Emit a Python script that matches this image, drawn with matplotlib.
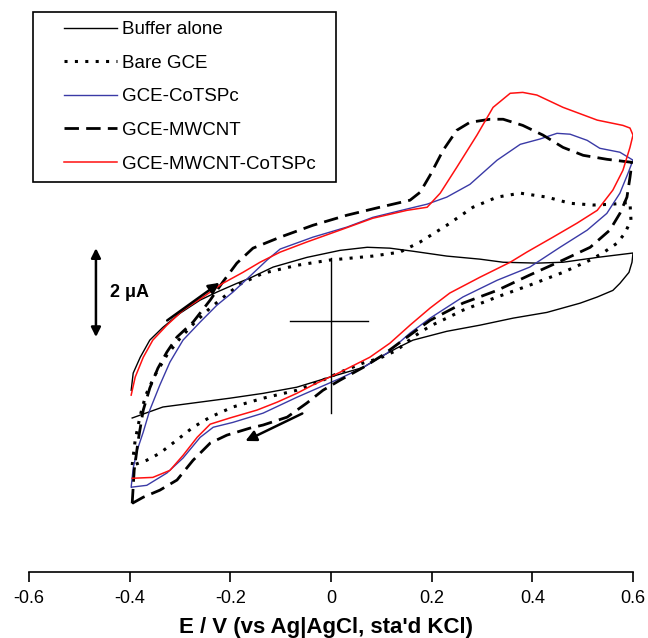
import matplotlib
matplotlib.use("Agg")
import matplotlib.pyplot as plt
from matplotlib.patches import Rectangle

plt.rcParams['font.family'] = ['Liberation Sans', 'DejaVu Sans']

# potential (V vs Ag|AgCl) and current (uA), forward scan then reverse scan
buffer_E = [-0.397, -0.393, -0.379, -0.360, -0.334, -0.300, -0.260, -0.227, -0.187, -0.161,
            -0.115, -0.048, 0.018, 0.072, 0.117, 0.163, 0.230, 0.296, 0.342, 0.409,
            0.461, 0.529, 0.600,
            0.598, 0.592, 0.574, 0.560, 0.529, 0.495, 0.429, 0.362, 0.296, 0.230,
            0.163, 0.131, 0.097, 0.064, -0.002, -0.068, -0.135, -0.201, -0.334, -0.395]
buffer_I = [-1.57, -1.18, -0.82, -0.43, -0.14, 0.18, 0.48, 0.66, 0.86, 0.98,
            1.23, 1.45, 1.61, 1.68, 1.66, 1.59, 1.48, 1.41, 1.34, 1.32,
            1.34, 1.45, 1.55,
            1.34, 1.11, 0.86, 0.70, 0.55, 0.41, 0.20, 0.07, -0.09, -0.23,
            -0.43, -0.61, -0.82, -1.05, -1.27, -1.50, -1.64, -1.75, -1.95, -2.20]

bare_E = [-0.395, -0.389, -0.379, -0.368, -0.350, -0.326, -0.300, -0.270, -0.240, -0.211,
          -0.181, -0.135, -0.068, -0.002, 0.083, 0.137, 0.177, 0.230, 0.282, 0.330,
          0.376, 0.429, 0.475, 0.521, 0.560, 0.594,
          0.596, 0.584, 0.568, 0.540, 0.515, 0.461, 0.395, 0.330, 0.262, 0.230,
          0.197, 0.163, 0.131, 0.097, 0.064, 0.018, -0.016, -0.068, -0.135, -0.195,
          -0.240, -0.274, -0.306, -0.340, -0.366, -0.393]
bare_I = [-3.27, -2.70, -2.14, -1.68, -1.23, -0.77, -0.39, -0.02, 0.30, 0.57,
          0.84, 1.09, 1.27, 1.39, 1.48, 1.57, 1.80, 2.18, 2.59, 2.82,
          2.91, 2.82, 2.68, 2.64, 2.66, 2.70,
          2.30, 2.00, 1.77, 1.55, 1.39, 1.11, 0.82, 0.55, 0.25, 0.07,
          -0.11, -0.36, -0.66, -0.84, -0.95, -1.16, -1.34, -1.57, -1.75, -1.95,
          -2.18, -2.41, -2.70, -3.00, -3.16, -3.27]

cotspc_E = [-0.397, -0.393, -0.385, -0.373, -0.360, -0.340, -0.320, -0.294, -0.260, -0.227,
            -0.195, -0.165, -0.127, -0.101, -0.036, 0.032, 0.083, 0.151, 0.191, 0.230,
            0.276, 0.330, 0.376, 0.415, 0.449, 0.475, 0.509, 0.534, 0.574, 0.600,
            0.590, 0.574, 0.548, 0.509, 0.455, 0.395, 0.330, 0.262, 0.197, 0.157,
            0.111, 0.064, 0.018, -0.036, -0.068, -0.135, -0.195, -0.234, -0.260, -0.294,
            -0.326, -0.366, -0.395]
cotspc_I = [-3.77, -3.34, -2.93, -2.52, -2.02, -1.45, -0.93, -0.43, -0.02, 0.36,
            0.66, 0.98, 1.39, 1.64, 1.91, 2.14, 2.36, 2.55, 2.66, 2.82,
            3.11, 3.66, 4.02, 4.14, 4.27, 4.25, 4.11, 3.93, 3.84, 3.66,
            3.36, 2.91, 2.45, 2.07, 1.68, 1.23, 0.93, 0.55, 0.07, -0.27,
            -0.73, -1.05, -1.30, -1.57, -1.73, -2.09, -2.30, -2.41, -2.64, -3.11,
            -3.45, -3.73, -3.77]

mwcnt_E = [-0.395, -0.391, -0.383, -0.373, -0.360, -0.344, -0.326, -0.306, -0.274, -0.240,
           -0.215, -0.187, -0.155, -0.101, -0.036, 0.032, 0.097, 0.157, 0.177, 0.197,
           0.223, 0.250, 0.276, 0.316, 0.342, 0.381, 0.421, 0.461, 0.501, 0.548, 0.598,
           0.594, 0.588, 0.574, 0.554, 0.515, 0.461, 0.395, 0.330, 0.262, 0.197,
           0.143, 0.103, 0.064, 0.018, -0.016, -0.048, -0.087, -0.135, -0.161, -0.207,
           -0.240, -0.274, -0.306, -0.340, -0.373, -0.395]
mwcnt_I = [-4.14, -3.39, -2.70, -2.02, -1.52, -1.07, -0.70, -0.36, -0.02, 0.48,
           0.89, 1.32, 1.66, 1.91, 2.18, 2.41, 2.59, 2.75, 2.93, 3.32,
           3.89, 4.34, 4.52, 4.59, 4.59, 4.45, 4.23, 3.95, 3.77, 3.68, 3.61,
           3.27, 2.82, 2.45, 2.07, 1.68, 1.39, 1.05, 0.70, 0.41, 0.02,
           -0.43, -0.77, -1.05, -1.34, -1.57, -1.86, -2.18, -2.36, -2.43, -2.59,
           -2.77, -3.16, -3.61, -3.84, -4.00, -4.14]

mwcnt_cotspc_E = [-0.397, -0.389, -0.373, -0.354, -0.326, -0.294, -0.254, -0.215, -0.175, -0.141,
                  -0.101, -0.048, 0.018, 0.083, 0.151, 0.191, 0.217, 0.250, 0.290, 0.322,
                  0.356, 0.381, 0.409, 0.461, 0.529, 0.580, 0.594, 0.600,
                  0.594, 0.580, 0.560, 0.529, 0.489, 0.441, 0.389, 0.356, 0.296, 0.236,
                  0.197, 0.157, 0.117, 0.077, 0.018, -0.036, -0.068, -0.107, -0.147, -0.201,
                  -0.240, -0.266, -0.294, -0.320, -0.354, -0.395]
mwcnt_cotspc_I = [-1.68, -1.27, -0.82, -0.43, -0.09, 0.25, 0.55, 0.86, 1.11, 1.34,
                  1.57, 1.80, 2.07, 2.34, 2.52, 2.59, 2.91, 3.50, 4.23, 4.86,
                  5.18, 5.20, 5.14, 4.86, 4.57, 4.45, 4.39, 4.23,
                  3.95, 3.43, 2.98, 2.52, 2.23, 1.91, 1.57, 1.34, 1.00, 0.64,
                  0.30, -0.09, -0.50, -0.82, -1.16, -1.45, -1.64, -1.84, -2.02, -2.20,
                  -2.34, -2.64, -3.05, -3.39, -3.55, -3.57]

labels = ['Buffer alone', 'Bare GCE', 'GCE-CoTSPc', 'GCE-MWCNT', 'GCE-MWCNT-CoTSPc']
x_ticks = [-0.6, -0.4, -0.2, 0, 0.2, 0.4, 0.6]
x_tick_labels = ['-0.6', '-0.4', '-0.2', '0', '0.2', '0.4', '0.6']

fig = plt.figure(figsize=(6.48, 6.38), dpi=100)
ax = fig.add_axes([29 / 648, 66 / 638, 604 / 648, 572 / 638])

ax.plot(buffer_E, buffer_I, color='black', lw=1.0, label=labels[0])
ax.plot(bare_E, bare_I, color='black', lw=2.2, linestyle=(0, (1.0, 2.4)), label=labels[1])
ax.plot(cotspc_E, cotspc_I, color='#3a3aa6', lw=1.0, label=labels[2])
ax.plot(mwcnt_E, mwcnt_I, color='black', lw=2.0, linestyle=(0, (5.2, 2.6)), label=labels[3])
ax.plot(mwcnt_cotspc_E, mwcnt_cotspc_I, color='#ff1010', lw=1.1, label=labels[4])

ax.set_xlim(-0.6, 0.6)
ax.set_ylim(-5.70, 7.30)

for side in ['left', 'right', 'top']:
    ax.spines[side].set_visible(False)
ax.spines['bottom'].set_linewidth(1.2)
ax.set_yticks([])
ax.set_xticks(x_ticks)
ax.set_xticklabels(x_tick_labels)
ax.tick_params(axis='x', direction='out', length=7, width=1.2, pad=6, labelsize=13)
ax.set_xlabel("E / V (vs Ag|AgCl, sta'd KCl)", fontsize=16, fontweight='bold')
ax.xaxis.set_label_coords((326 - 29) / 604, -0.078)

# cross marking the origin
ax.plot([0, 0], [1.43, -2.09], color='black', lw=1.0)
ax.plot([-0.081, 0.074], [0, 0], color='black', lw=1.0)

# scan direction arrows
ax.annotate('', xy=(-0.217, 0.91), xytext=(-0.330, -0.02),
            arrowprops=dict(arrowstyle='-|>', color='black', lw=1.8, mutation_scale=16))
ax.annotate('', xy=(-0.175, -2.75), xytext=(-0.052, -2.07),
            arrowprops=dict(arrowstyle='-|>', color='black', lw=1.8, mutation_scale=16))

# 2 uA scale bar
ax.annotate('', xy=(-0.467, 1.66), xytext=(-0.467, -0.36),
            arrowprops=dict(arrowstyle='<|-|>', color='black', lw=1.8, mutation_scale=14,
                            shrinkA=0, shrinkB=0))
ax.text(-0.44, 0.66, '2 \u03bcA', fontsize=13, fontweight='bold', ha='left', va='center')

# legend: entries without frame, box drawn separately
leg = ax.legend(loc='upper left', bbox_to_anchor=(64 / 648, 1 - 21 / 638),
                bbox_transform=fig.transFigure, fontsize=13.5, frameon=False,
                handlelength=2.8, handletextpad=0.3, labelspacing=0.88, borderpad=0,
                borderaxespad=0)
fig.patches.append(Rectangle((33 / 648, 1 - 182 / 638), 303 / 648, 170 / 638,
                             transform=fig.transFigure, fill=False, edgecolor='black',
                             linewidth=1.2, zorder=5))

fig.savefig('out.png', dpi=100)
